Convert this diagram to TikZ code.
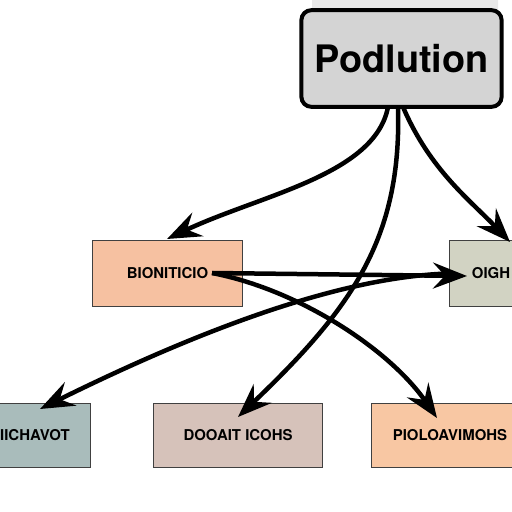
\documentclass[tikz,border=0pt]{standalone}
\usepackage{fontspec}
\setmainfont{TeX Gyre Heros}
\usetikzlibrary{arrows.meta}
\definecolor{topgray}{HTML}{D4D4D4}
\definecolor{peach}{HTML}{F6C1A1}
\definecolor{sage}{HTML}{D2D3C3}
\definecolor{teal}{HTML}{A9BCBB}
\definecolor{rose}{HTML}{D6C2BA}
\definecolor{apricot}{HTML}{F8C7A3}
\tikzset{
  box/.style={draw=black!75, line width=1.2bp, font=\fontsize{15}{17}\selectfont\bfseries, inner sep=0pt},
  arr/.style={line width=4.5bp, -{Stealth[length=34bp, width=26bp, inset=12bp]}}
}
\begin{document}
\begin{tikzpicture}[x=1bp, y=-1bp]
    \useasboundingbox (0,0) rectangle (512,512);
    \clip (0,0) rectangle (512,512);
    \fill [white] (0,0) rectangle (512,512);
    \fill [black!9, rounded corners=8] (312,-10) rectangle (498,20);
    \node [draw, line width=4bp, rounded corners=10, fill=topgray, minimum width=201, minimum height=97, font=\fontsize{38}{40}\selectfont\bfseries, inner sep=0pt] (pol) at (401.5,58.5) {Podlution};
    \node [box, fill=peach, minimum width=151, minimum height=67] (bio) at (167.5,273.5) {BIONITICIO};
    \node [box, fill=sage, minimum width=84, minimum height=67] (oigh) at (491,273.5) {OIGH};
    \node [box, fill=teal, minimum width=112, minimum height=65] (ich) at (35,435.5) {IICHAVOT};
    \node [box, fill=rose, minimum width=170, minimum height=65] (doo) at (238,435.5) {DOOAIT ICOHS};
    \node [box, fill=apricot, minimum width=158, minimum height=65] (pio) at (450,435.5) {PIOLOAVIMOHS};
    \coordinate (bioout) at (212,273);
    \coordinate (polA) at (388,107);
    \coordinate (polB) at (398,107);
    \coordinate (polC) at (403,107);
    \draw [arr] (polA) .. controls (375,175) and (260,195) .. (167,239);
    \draw [arr] (polC) .. controls (430,170) and (470,200) .. (510,242);
    \draw [arr] (polB) .. controls (402,240) and (350,310) .. (238,417);
    \draw [arr] (bioout) -- (467,276);
    \draw [arr] (bioout) .. controls (300,290) and (390,350) .. (437,418);
    \draw [arr] (oigh.west) .. controls (340,277) and (200,330) .. (40,409);
\end{tikzpicture}
\end{document}
